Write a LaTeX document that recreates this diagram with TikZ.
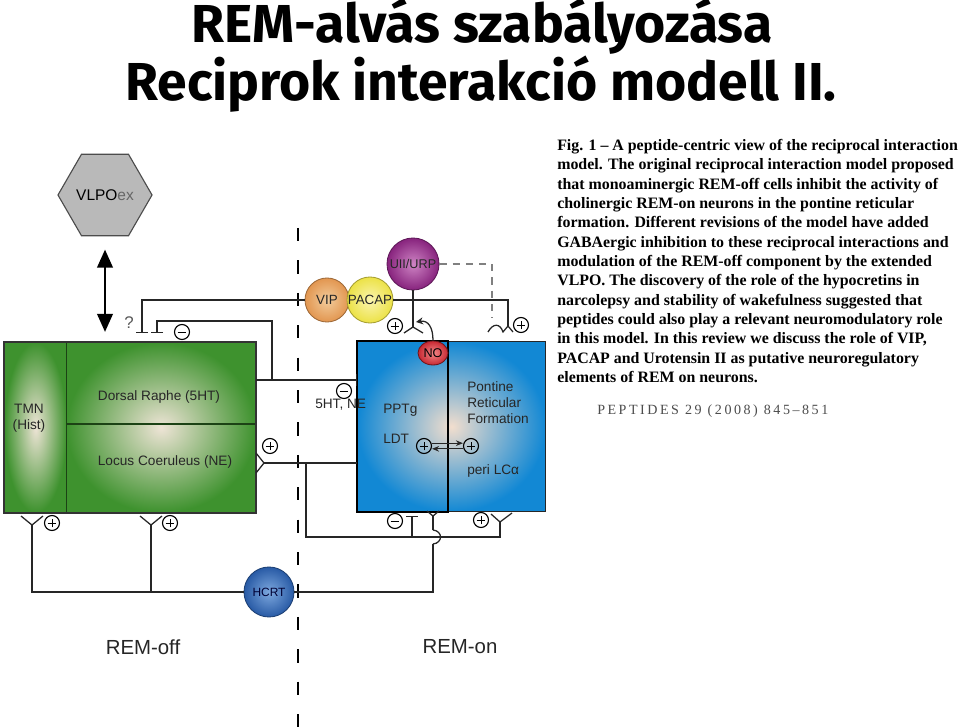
\documentclass[tikz,border=0pt]{standalone}
\usepackage{fontspec}
\setmainfont{Liberation Serif}
\setsansfont{Liberation Sans}
\newfontfamily\titlefont{Fira Sans}
\newfontfamily\capfont{Liberation Serif}
\usetikzlibrary{arrows.meta,shapes.geometric}

\definecolor{offgreen}{RGB}{62,146,46}
\definecolor{offlight}{RGB}{238,228,214}
\definecolor{onblue}{RGB}{18,136,212}
\definecolor{onlight}{RGB}{242,222,206}
\definecolor{vipc}{RGB}{226,150,80}
\definecolor{vipl}{RGB}{242,204,156}
\definecolor{pacc}{RGB}{236,226,70}
\definecolor{pacl}{RGB}{250,244,176}
\definecolor{uiic}{RGB}{135,35,125}
\definecolor{uiil}{RGB}{206,132,196}
\definecolor{hcrtc}{RGB}{40,90,165}
\definecolor{hcrtl}{RGB}{125,168,222}
\definecolor{noc}{RGB}{200,40,50}
\definecolor{nol}{RGB}{242,136,136}

\tikzset{
  ttl/.style={font=\titlefont\bfseries\fontsize{38}{44}\selectfont, inner sep=0pt},
  lbl/.style={font=\sffamily\fontsize{9.7}{11.4}\selectfont, inner sep=0pt, text=black!85},
  big/.style={font=\sffamily\fontsize{14.5}{17}\selectfont, inner sep=0pt, text=black!85},
  sign/.style={circle, draw, line width=0.8pt, minimum size=0.375cm, inner sep=0pt},
  plus/.style={sign, path picture={\draw[line width=0.65pt] (path picture bounding box.center)
    +(-0.11cm,0) -- +(0.11cm,0) +(0,-0.11cm) -- +(0,0.11cm);}},
  minus/.style={sign, path picture={\draw[line width=0.65pt] (path picture bounding box.center)
    +(-0.11cm,0) -- +(0.11cm,0);}},
  wire/.style={line width=0.9pt, black!85},
  inh/.style={-{Bar[width=0.3cm, line width=0.9pt]}},
  gdash/.style={line width=1pt, gray, dash pattern=on 0.18cm off 0.15cm},
  midline/.style={line width=2.1pt, dash pattern=on 0.33cm off 0.48cm},
  bigarr/.style={line width=2.1pt, {Triangle[width=0.38cm,length=0.45cm]}-{Triangle[width=0.38cm,length=0.45cm]}},
  hexa/.style={regular polygon, regular polygon sides=6, minimum size=1.9cm, inner sep=0pt,
    fill=gray!55, draw=black!70, line width=0.8pt, font=\sffamily\fontsize{11}{13}\selectfont},
  offshade/.style={inner color=offlight, outer color=offgreen, draw=offgreen!45!black, line width=0.8pt, inner sep=0pt},
  onshade/.style={inner color=onlight, outer color=onblue, draw=black!85, line width=0.8pt, inner sep=0pt},
  pep/.style 2 args={circle, inner sep=0pt, inner color=#2, outer color=#1, draw=#1!70!black,
    line width=0.6pt, font=\sffamily\fontsize{9.5}{11}\selectfont, text=black!85},
  noel/.style={ellipse, minimum width=0.75cm, minimum height=0.6cm, inner sep=0pt,
    inner color=nol, outer color=noc, draw=noc!55!black, line width=0.6pt, font=\sffamily\fontsize{9}{10}\selectfont}
}

\begin{document}
\begin{tikzpicture}[x=0.025cm, y=-0.025cm]
  \useasboundingbox (0,0) rectangle (960,727);

  \node[ttl, anchor=base] (title1) at (482,43) {REM-alvás szabályozása};
  \node[ttl, anchor=base] (title2) at (481,101) {Reciprok interakció modell II.};

  \coordinate (midtop) at (298,228);
  \coordinate (midbot) at (298,727);
  \draw[midline] (midtop) -- (midbot);

  \node[offshade, minimum width=1.55cm, minimum height=4.25cm, anchor=north west] (tmn) at (4,342) {};
  \node[offshade, minimum width=4.725cm, minimum height=4.25cm, anchor=north west] (drlc) at (66,342) {};
  \coordinate (drlcmid) at (66,424);
  \draw[line width=0.8pt, offgreen!45!black] (drlcmid) -- (drlcmid -| drlc.east);
  \draw[line width=1pt, black!80] (tmn.north west) rectangle (drlc.south east);

  \node[onshade, minimum width=4.7cm, minimum height=4.25cm, anchor=north west] (onblk) at (357,341) {};
  \coordinate (ondiv) at (448,341);
  \draw[line width=0.8pt] (ondiv) -- (ondiv |- onblk.south);
  \draw[line width=1.7pt] (onblk.north west) rectangle (ondiv |- onblk.south);

  \node[hexa] (vlpo) at (105,195) {VLPO{\color{black!60}ex}};
  \draw[bigarr, shorten <=0.33cm, shorten >=0.25cm] (vlpo.south) -- (vlpo.south |- tmn.north);

  \node[pep={vipc}{vipl}, minimum size=1.1cm] (vip) at (327,300) {VIP};
  \node[pep={pacc}{pacl}, minimum size=1.15cm] (pacap) at (370,300) {PACAP};
  \node[pep={uiic}{uiil}, minimum size=1.3cm, font=\sffamily\fontsize{9}{10}\selectfont] (uii) at (413,264) {UII/URP};
  \node[pep={hcrtc}{hcrtl}, minimum size=1.25cm, font=\sffamily\fontsize{8.5}{9}\selectfont, text=black!80!blue] (hcrt) at (269,592) {HCRT};
  \node[noel] (no) at (433,353) {NO};

  \coordinate (qbar) at (142,333);
  \coordinate (autotop) at (157,321);
  \coordinate (autobar) at (157,333);
  \coordinate (drj) at (272,380);
  \coordinate (lcy) at (264,463);
  \coordinate (lcj) at (306,463);
  \coordinate (botr) at (500,537);
  \coordinate (recr) at (500,522);
  \coordinate (tbar) at (412,516);
  \coordinate (yl) at (32,525);
  \coordinate (ym) at (151,525);
  \coordinate (hopb) at (433,544);
  \coordinate (hopt) at (433,530);
  \coordinate (yno) at (433,516);
  \coordinate (pacy) at (508,326);
  \coordinate (uiiy) at (413,327);
  \coordinate (uiid) at (492,318);
  \coordinate (nocurv) at (416,322);

  \draw[wire, inh] (vip.west) -| (qbar);
  \draw[wire, inh] (drj) |- (autotop) -- (autobar);
  \draw[wire, inh] (drlc.east |- drj) -- (onblk.west |- drj);
  \draw[wire] (onblk.west |- lcy) -- (lcy);
  \draw[wire] (lcy) -- ++(-8,-10) (lcy) -- ++(-8,10);
  \draw[wire] (lcj) |- (botr) -- (recr);
  \draw[wire] (recr) -- ++(-9,-8) (recr) -- ++(12,-9);
  \draw[wire, inh] (tbar |- botr) -- (tbar);
  \draw[wire] (hcrt.west) -| (yl);
  \draw[wire] (yl) -- ++(-11,-9) (yl) -- ++(11,-9);
  \draw[wire] (ym |- hcrt) -- (ym);
  \draw[wire] (ym) -- ++(-11,-9) (ym) -- ++(11,-9);
  \draw[wire] (hcrt.east) -| (hopb);
  \draw[wire] (hopb) .. controls (443,543) and (443,531) .. (hopt);
  \draw[wire] (hopt) -- (yno);
  \draw[wire] (yno) -- ++(-6,-5) (yno) -- ++(6,-5);
  \draw[wire] (pacap.east) -| (pacy);
  \draw[wire] (pacy) -- ++(5,6) (pacy) -- (503,332) .. controls (500,323) and (493,323) .. (488,332);
  \draw[wire] (uii.south) -- (uiiy);
  \draw[wire] (uiiy) -- ++(-9,6) (uiiy) -- ++(10,6);
  \draw[gdash] (uii.east) -| (uiid);
  \draw[wire, -{Stealth[length=5pt,width=5pt]}] (no.north) .. controls (433,327) and (428,320) .. (nocurv);

  \node[minus] (m1) at (182,332) {};
  \node[minus] (m2) at (344,391) {};
  \node[plus] (p1) at (270,446) {};
  \node[plus] (p2) at (52,523) {};
  \node[plus] (p3) at (170,523) {};
  \node[minus] (m3) at (395,521) {};
  \node[plus] (p4) at (481,520) {};
  \node[plus] (p5) at (395,326) {};
  \node[plus] (p6) at (521,325) {};
  \node[plus] (p7) at (424,446) {};
  \node[plus] (p8) at (471,446) {};
  \draw[wire, -{Stealth[length=5pt,width=4pt]}] ([yshift=2pt]p7.east) -- ([yshift=2pt]p8.west);
  \draw[wire, -{Stealth[length=5pt,width=4pt]}] ([yshift=-2pt]p8.west) -- ([yshift=-2pt]p7.east);

  \node[lbl, font=\sffamily\fontsize{12}{14}\selectfont, text=black!65] (qmark) at (129,323) {?};
  \node[lbl, align=center] (tmnlbl) at (29,418) {TMN\\(Hist)};
  \node[lbl] (drlbl) at (159,397) {Dorsal Raphe (5HT)};
  \node[lbl] (lclbl) at (165,462) {Locus Coeruleus (NE)};
  \node[lbl, anchor=west] (shtne) at (315,405) {5HT, NE};
  \node[lbl, anchor=west] (ppt) at (383,410) {PPTg};
  \node[lbl, anchor=west] (ldt) at (383,439) {LDT};
  \node[lbl, align=left, anchor=west] (prf) at (467,403) {Pontine\\Reticular\\Formation};
  \node[lbl, anchor=west] (peri) at (467,471) {peri LCα};
  \node[big] (remoff) at (143,647) {REM-off};
  \node[big] (remon) at (460,647) {REM-on};

  \node[anchor=north west, align=left, inner sep=0pt,
    font=\capfont\bfseries\fontsize{11.3}{13.75}\selectfont] (caption) at (557,139)
    {Fig. 1 – A peptide-centric view of the reciprocal interaction\\
     model. The original reciprocal interaction model proposed\\
     that monoaminergic REM-off cells inhibit the activity of\\
     cholinergic REM-on neurons in the pontine reticular\\
     formation. Different revisions of the model have added\\
     GABAergic inhibition to these reciprocal interactions and\\
     modulation of the REM-off component by the extended\\
     VLPO. The discovery of the role of the hypocretins in\\
     narcolepsy and stability of wakefulness suggested that\\
     peptides could also play a relevant neuromodulatory role\\
     in this model. In this review we discuss the role of VIP,\\
     PACAP and Urotensin II as putative neuroregulatory\\
     elements of REM on neurons.};
  \node[anchor=west, inner sep=0pt, text=black!70,
    font={\capfont\fontsize{10}{12}\selectfont\addfontfeature{LetterSpace=18}}] (cite) at (597,411)
    {PEPTIDES 29 (2008) 845–851};
\end{tikzpicture}
\end{document}
